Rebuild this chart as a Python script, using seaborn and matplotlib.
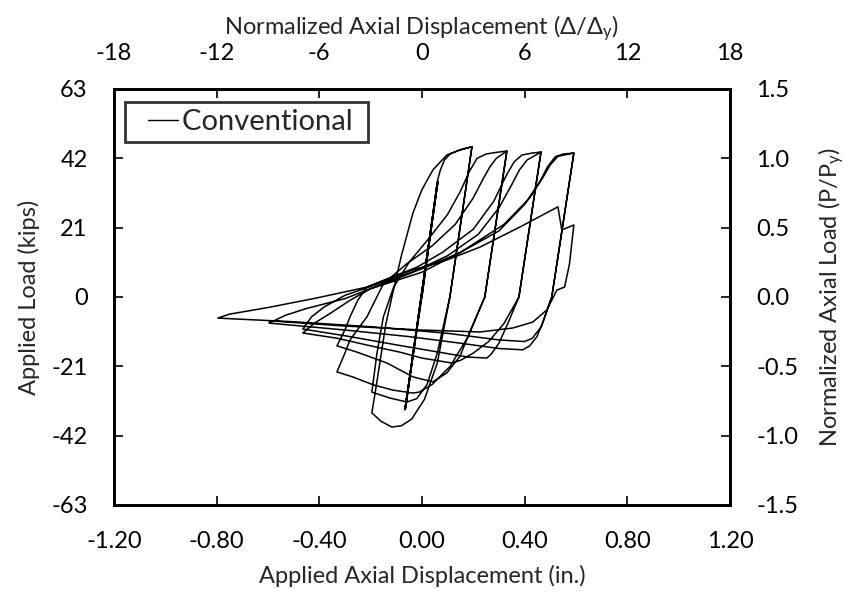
import numpy as np
import pandas as pd
import matplotlib
matplotlib.use("Agg")
import matplotlib.pyplot as plt
import seaborn as sns
from matplotlib.lines import Line2D
from matplotlib.legend_handler import HandlerLine2D

# 加载/整理数据: applied axial displacement (in.) and applied load (kips), cycle by cycle
elastic_disp = [0.0, 0.062, -0.066, 0.060, -0.064, 0.062, -0.066, 0.0]
elastic_load = [0.0, 35.0, -34.2, 34.5, -33.8, 34.8, -34.0, 0.0]

t1_disp = [0.0, 0.060, 0.072, 0.088, 0.110, 0.140, 0.170, 0.195]
t1_load = [0.0, 35.0, 38.5, 41.5, 43.3, 44.3, 45.0, 45.5]
c1_disp = [0.195, 0.109, 0.060, 0.010, -0.040, -0.080, -0.117, -0.160, -0.195]
c1_load = [45.5, 0.0, -20.0, -31.0, -37.0, -39.0, -39.4, -37.6, -35.1]

t2_disp = [-0.195, -0.180, -0.160, -0.140, -0.117, -0.080, -0.035, 0.000, 0.043, 0.097, 0.150, 0.195]
t2_load = [-35.1, -28.0, -18.0, -8.0, 0.0, 12.5, 25.4, 32.5, 38.5, 43.0, 44.6, 45.5]
c2_disp = [0.195, 0.109, 0.060, 0.020, -0.020, -0.058, -0.125, -0.195]
c2_load = [45.5, 0.0, -17.0, -26.5, -30.8, -31.8, -30.6, -28.8]

t3_disp = [-0.195, -0.175, -0.150, -0.110, -0.050, 0.030, 0.100, 0.150, 0.185, 0.215, 0.250, 0.290, 0.331]
t3_load = [-28.8, -17.0, -6.0, 3.0, 10.5, 18.0, 25.0, 32.0, 38.0, 42.0, 43.3, 43.8, 44.2]
c3_disp = [0.331, 0.245, 0.180, 0.110, 0.040, -0.010, -0.035, -0.113, -0.190, -0.270, -0.331]
c3_load = [44.2, 0.0, -12.0, -21.0, -26.5, -28.8, -29.1, -28.2, -26.6, -24.2, -22.7]

t4_disp = [-0.331, -0.300, -0.280, -0.214, -0.150, -0.060, 0.040, 0.130, 0.200, 0.240, 0.265, 0.290, 0.331]
t4_load = [-22.7, -17.0, -13.0, -6.0, 4.0, 10.0, 15.5, 22.0, 30.0, 36.0, 39.4, 42.0, 44.2]
c4_disp = [0.331, 0.245, 0.190, 0.148, 0.097, 0.043, -0.035, -0.136, -0.253, -0.331]
c4_load = [44.2, 0.0, -10.0, -18.0, -23.0, -25.7, -24.2, -20.0, -16.7, -14.8]

t5_disp = [-0.331, -0.300, -0.280, -0.250, -0.214, -0.120, -0.020, 0.080, 0.200, 0.280, 0.330, 0.360, 0.390, 0.430, 0.464]
t5_load = [-14.8, -10.0, -6.0, -1.0, 3.0, 6.0, 9.0, 13.5, 20.5, 29.0, 37.0, 41.0, 43.0, 43.6, 43.9]
c5_disp = [0.464, 0.378, 0.320, 0.260, 0.200, 0.150, 0.117, 0.000, -0.086, -0.200, -0.330, -0.464]
c5_load = [43.9, 0.0, -8.0, -13.5, -17.0, -19.2, -20.0, -18.5, -16.7, -14.8, -12.5, -10.9]

t6_disp = [-0.464, -0.420, -0.358, -0.280, -0.200, -0.050, 0.100, 0.220, 0.300, 0.350, 0.380, 0.410, 0.464]
t6_load = [-10.9, -8.0, -5.0, -1.0, 2.5, 7.0, 12.5, 19.0, 27.0, 34.0, 38.5, 41.5, 43.9]
c6_disp = [0.464, 0.378, 0.335, 0.300, 0.270, 0.253, 0.180, 0.050, -0.100, -0.280, -0.464]
c6_load = [43.9, 0.0, -8.0, -14.0, -17.3, -18.5, -18.2, -16.5, -14.5, -12.0, -9.7]

t7_disp = [-0.464, -0.430, -0.380, -0.300, -0.150, 0.000, 0.150, 0.300, 0.400, 0.460, 0.490, 0.520, 0.550, 0.592]
t7_load = [-9.7, -6.0, -3.0, 0.5, 4.5, 8.5, 13.5, 20.0, 28.0, 35.0, 39.5, 42.5, 43.3, 43.6]
c7_disp = [0.592, 0.506, 0.470, 0.448, 0.420, 0.393, 0.300, 0.150, -0.050, -0.300, -0.596]
c7_load = [43.6, 0.0, -8.0, -12.0, -14.8, -16.0, -15.6, -14.0, -12.0, -10.0, -7.9]

t8_disp = [-0.596, -0.530, -0.450, -0.300, -0.200, 0.000, 0.150, 0.320, 0.420, 0.470, 0.500, 0.530, 0.592]
t8_load = [-7.9, -5.5, -3.5, -0.5, 2.5, 7.5, 13.5, 22.0, 30.0, 36.0, 40.0, 42.6, 43.6]
c8_disp = [0.592, 0.506, 0.465, 0.430, 0.400, 0.300, 0.100, -0.200, -0.500, -0.795]
c8_load = [43.6, 0.0, -9.0, -12.5, -13.5, -13.0, -11.0, -9.0, -7.5, -6.4]

t9_disp = [-0.795, -0.750, -0.600, -0.410, -0.214, -0.035, 0.097, 0.226, 0.382, 0.530, 0.545, 0.592]
t9_load = [-6.4, -5.2, -3.2, -0.3, 3.0, 8.2, 11.2, 15.1, 21.2, 27.3, 20.3, 21.8]
c9_disp = [0.592, 0.575, 0.556, 0.526, 0.487, 0.432, 0.354, 0.226, 0.000, -0.300, -0.596]
c9_load = [21.8, 10.0, 3.0, 2.1, -3.9, -7.6, -9.4, -10.6, -10.0, -8.8, -7.2]

segments = [
    (elastic_disp, elastic_load),
    (t1_disp, t1_load), (c1_disp, c1_load),
    (t2_disp, t2_load), (c2_disp, c2_load),
    (t3_disp, t3_load), (c3_disp, c3_load),
    (t4_disp, t4_load), (c4_disp, c4_load),
    (t5_disp, t5_load), (c5_disp, c5_load),
    (t6_disp, t6_load), (c6_disp, c6_load),
    (t7_disp, t7_load), (c7_disp, c7_load),
    (t8_disp, t8_load), (c8_disp, c8_load),
    (t9_disp, t9_load), (c9_disp, c9_load),
]

disp = np.concatenate([np.asarray(d, float) for d, _ in segments])
load = np.concatenate([np.asarray(p, float) for _, p in segments])
df = pd.DataFrame({"disp": disp, "load": load})

sns.set_style("white")
plt.rcParams['font.family'] = ['Lato', 'DejaVu Sans']
plt.rcParams['mathtext.fontset'] = 'custom'
plt.rcParams['mathtext.rm'] = 'Lato'
plt.rcParams['axes.unicode_minus'] = False

FS = 17
fig = plt.figure(figsize=(8.5, 5.96), dpi=100)
ax = fig.add_axes([0.134, 0.1527, 0.7247, 0.698])

sns.lineplot(data=df, x="disp", y="load", sort=False, estimator=None,
             color="black", linewidth=1.1, label="Conventional", ax=ax)

ax.set_xlim(-1.2, 1.2)
ax.set_ylim(-63, 63)
ax.set_xticks(np.arange(-1.2, 1.21, 0.4))
ax.set_xticklabels([f"{v:.2f}" for v in np.arange(-1.2, 1.21, 0.4)])
ax.set_yticks(np.arange(-63, 64, 21))
ax.set_xlabel("Applied Axial Displacement (in.)", fontsize=FS, labelpad=9)
ax.set_ylabel("Applied Load (kips)", fontsize=FS, labelpad=8)

# 右轴: normalized load
ax_r = ax.twinx()
ax_r.set_ylim(-1.5, 1.5)
ax_r.set_yticks(np.arange(-1.5, 1.51, 0.5))
ax_r.set_yticklabels([f"{v:.1f}" for v in np.arange(-1.5, 1.51, 0.5)])
ax_r.set_ylabel("Normalized Axial Load (P/P$\\mathregular{_y}$)", fontsize=FS, labelpad=13)

# 上轴: normalized displacement
ax_t = ax.twiny()
ax_t.set_xlim(-18, 18)
ax_t.set_xticks(np.arange(-18, 19, 6))
ax_t.set_xlabel("Normalized Axial Displacement (\u0394/\u0394$\\mathregular{_y}$)", fontsize=FS, labelpad=6)

for a in (ax, ax_r, ax_t):
    for s in a.spines.values():
        s.set_linewidth(2.0)
        s.set_color("black")
    a.tick_params(direction="in", length=6.5, width=1.2, labelsize=FS, pad=19, colors="black")
ax_t.tick_params(pad=18)

leg = ax.legend(loc="upper left", bbox_to_anchor=(0.018, 0.969), fontsize=21,
                frameon=True, fancybox=False, handlelength=1.57, handletextpad=0.14,
                borderpad=0.25, borderaxespad=0.0,
                handler_map={Line2D: HandlerLine2D(xpad=0.54)})
leg.get_texts()[0].set_text("Conventional ")
leg.get_frame().set_edgecolor("black")
leg.get_frame().set_linewidth(2.0)
for line in leg.get_lines():
    line.set_linewidth(1.0)

plt.savefig("out.png", dpi=100, facecolor="white")
